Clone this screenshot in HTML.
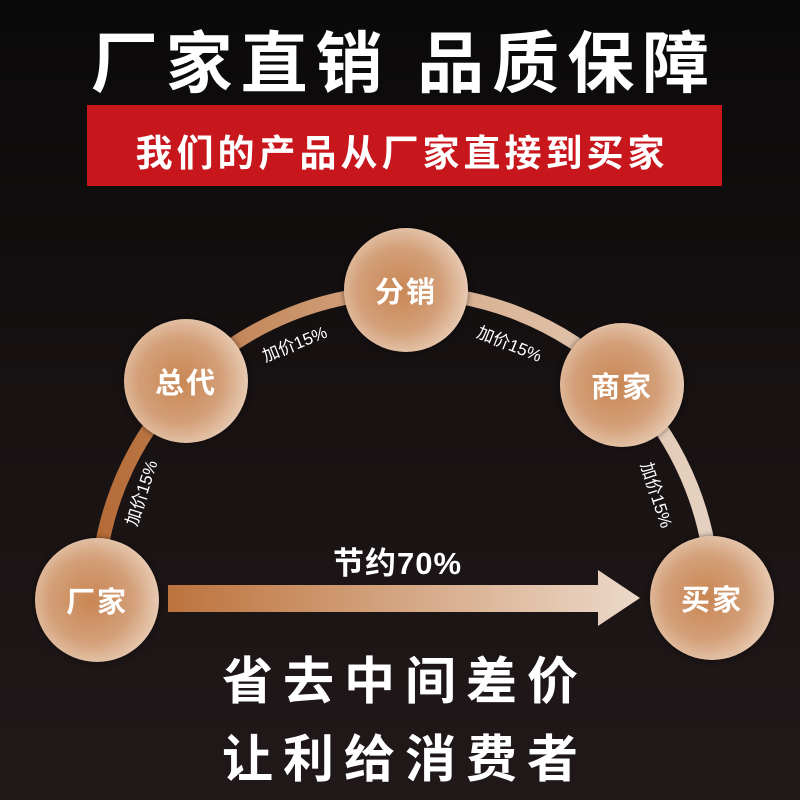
<!DOCTYPE html>
<html><head><meta charset="utf-8"><style>
html,body{margin:0;padding:0}
body{width:800px;height:800px;overflow:hidden;position:relative;background:linear-gradient(#0a0909,#1a1314 60%,#201819);font-family:"Liberation Sans","Noto Sans CJK SC",sans-serif;color:#fff}
.t{position:absolute;left:0;width:800px;text-align:center;font-weight:bold;white-space:nowrap}
.c{position:absolute;width:124px;height:124px;border-radius:50%;background:radial-gradient(circle at 45% 50%,#c98653 0%,#d39f78 45%,#ebd2bd 80%,#f6e6d8 100%);box-shadow:0 0 6px rgba(0,0,0,.5);display:flex;align-items:center;justify-content:center;font-weight:bold;font-size:29px;letter-spacing:2px}
.l{position:absolute;font-size:17px;white-space:nowrap;transform-origin:center}
</style></head><body>
<div class="t" style="top:10px;font-size:67px;letter-spacing:8px;text-indent:8px">厂家直销 品质保障</div>
<div style="position:absolute;left:87px;top:105px;width:635px;height:81px;background:#c8161d"></div>
<div class="t" style="top:123px;font-size:37px;letter-spacing:4px;text-indent:4px">我们的产品从厂家直接到买家</div>
<svg width="800" height="800" style="position:absolute;left:0;top:0">
<defs><linearGradient id="g" x1="95" x2="715" y1="0" y2="0" gradientUnits="userSpaceOnUse"><stop offset="0" stop-color="#b46a35"/><stop offset="0.5" stop-color="#d6a987"/><stop offset="1" stop-color="#e6d2c2"/></linearGradient>
<linearGradient id="a" x1="168" x2="640" y1="0" y2="0" gradientUnits="userSpaceOnUse"><stop offset="0" stop-color="#bd733d"/><stop offset="1" stop-color="#ecd9c9"/></linearGradient></defs>
<path d="M97 600 A308 308 0 0 1 713 600" fill="none" stroke="url(#g)" stroke-width="14"/>
<polygon points="168,585 598,585 598,570 640,598 598,626 598,612 168,612" fill="url(#a)"/>
</svg>
<div class="c" style="left:35px;top:538px">厂家</div>
<div class="c" style="left:124px;top:319px">总代</div>
<div class="c" style="left:344px;top:228px">分销</div>
<div class="c" style="left:560px;top:323px">商家</div>
<div class="c" style="left:650px;top:536px">买家</div>
<div class="l" style="left:106px;top:480px;transform:rotate(-72deg)">加价15%</div>
<div class="l" style="left:260px;top:330px;transform:rotate(-22deg)">加价15%</div>
<div class="l" style="left:476px;top:330px;transform:rotate(22deg)">加价15%</div>
<div class="l" style="left:624px;top:482px;transform:rotate(72deg)">加价15%</div>
<div style="position:absolute;left:333px;top:538px;font-size:31px;font-weight:bold;letter-spacing:1px">节约70%</div>
<div class="t" style="top:640px;font-size:51px;letter-spacing:10px;text-indent:10px">省去中间差价</div>
<div class="t" style="top:718px;font-size:51px;letter-spacing:10px;text-indent:10px">让利给消费者</div>
</body></html>
